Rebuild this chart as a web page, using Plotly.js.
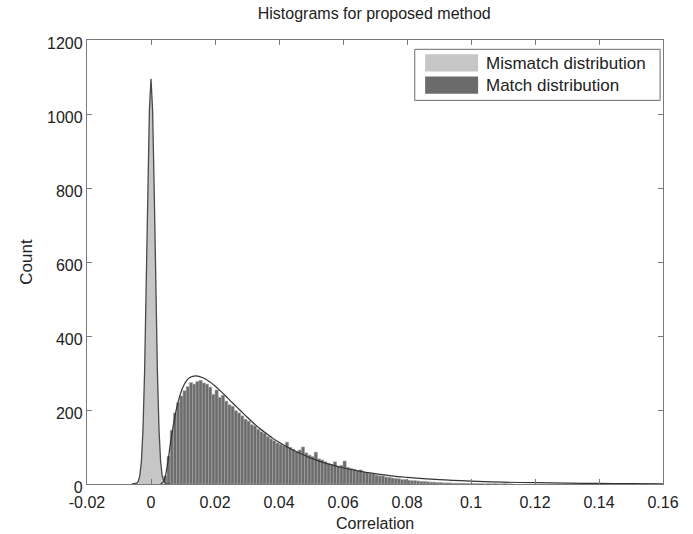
<!DOCTYPE html>
<html>
<head>
<meta charset="utf-8">
<script src="https://cdn.plot.ly/plotly-3.0.1.min.js"></script>
<style>html,body{margin:0;padding:0;background:#fff;}#chart{width:693px;height:534px;}</style>
</head>
<body>
<div id="chart"></div>
<script>
// ---- data ----
const chartTitle = 'Histograms for proposed method';
const xTitle = 'Correlation';
const yTitle = 'Count';
const legendNames = ['Mismatch distribution', 'Match distribution'];

const xTickVals = [-0.02, 0, 0.02, 0.04, 0.06, 0.08, 0.1, 0.12, 0.14, 0.16];
const xTickText = ['-0.02', '0', '0.02', '0.04', '0.06', '0.08', '0.1', '0.12', '0.14', '0.16'];
const yTickVals = [0, 200, 400, 600, 800, 1000, 1200];
const yTickText = ['0', '200', '400', '600', '800', '1000', '1200'];

// mismatch distribution (narrow peak around 0)
const mismatchX = [-0.006, -0.005, -0.0045, -0.004, -0.0035, -0.003, -0.0025, -0.002, -0.0015, -0.001, -0.0005, 0,
                   0.0005, 0.001, 0.0015, 0.002, 0.0025, 0.003, 0.0035, 0.004, 0.0045, 0.005, 0.006];
const mismatchY = [0, 0, 2, 7, 22, 61, 148, 304, 533, 795, 1011, 1095,
                   1011, 795, 533, 304, 148, 61, 22, 7, 2, 0, 0];

// match distribution histogram: bins of width 0.001 starting at 0.003
const matchBinStart = 0.003;
const matchBinWidth = 0.001;
const matchCounts = [6, 22, 75, 145, 192, 220, 238, 252, 263, 274,
  270, 277, 280, 273, 270, 262, 242, 254, 234, 240,
  224, 214, 210, 198, 192, 184, 175, 170, 160, 157,
  148, 141, 137, 128, 122, 117, 111, 107, 103, 113,
  99, 94, 88, 92, 100, 84, 78, 74, 86, 68,
  65, 60, 55, 52, 60, 48, 50, 62, 45, 42,
  40, 36, 38, 32, 30, 28, 27, 24, 22, 22,
  19, 18, 16, 15, 14, 12, 12, 10, 9, 9,
  8, 7, 7, 6, 5, 5, 4, 4, 3, 3,
  3, 2, 2, 2, 2, 1, 1, 1, 1, 1,
  1, 0, 1, 0, 1, 0, 0, 1, 0, 0];

// fitted curve for the match distribution
const fitX = [0.003, 0.004, 0.005, 0.006, 0.007, 0.008, 0.009, 0.010, 0.011, 0.012, 0.013, 0.014, 0.015, 0.016,
  0.017, 0.018, 0.019, 0.020, 0.022, 0.024, 0.026, 0.028, 0.030, 0.032, 0.034, 0.036, 0.038, 0.040,
  0.043, 0.046, 0.050, 0.055, 0.060, 0.065, 0.070, 0.075, 0.080, 0.090, 0.100, 0.110, 0.120, 0.130,
  0.140, 0.150, 0.160];
const fitY = [0, 8, 45, 105, 160, 205, 238, 262, 278, 287, 291, 292, 291, 288,
  284, 278, 272, 265, 249, 232, 215, 198, 181, 165, 150, 137, 124, 113,
  98, 85, 70, 55, 44, 35, 28, 22, 18, 12, 8, 5, 3.5, 2.5,
  1.5, 1, 0.5];

// ---- build ----
const matchCenters = matchCounts.map((_, i) => +(matchBinStart + matchBinWidth * (i + 0.5)).toFixed(5));

const mismatchFill = '#c6c6c6';
const matchFill = '#6b6b6b';
const axisColor = '#7a7a7a';
const textColor = '#222';
const font = {family: 'Liberation Sans, Arial, sans-serif', size: 17, color: textColor};
const tickFont = {family: font.family, size: 16, color: textColor};

const traces = [
  {
    type: 'scatter', mode: 'lines', name: legendNames[0],
    x: mismatchX, y: mismatchY,
    fill: 'tozeroy', fillcolor: mismatchFill,
    line: {color: '#4a4a4a', width: 1.3},
    showlegend: false
  },
  {
    type: 'bar', name: legendNames[1],
    x: matchCenters, y: matchCounts, width: matchBinWidth,
    marker: {color: matchFill, line: {color: '#a6a6a6', width: 0.6}},
    showlegend: false
  },
  {
    type: 'scatter', mode: 'lines', name: 'fit',
    x: fitX, y: fitY,
    line: {color: '#333', width: 1.2, shape: 'spline'},
    showlegend: false
  }
];

const layout = {
  width: 693, height: 534,
  margin: {l: 87, r: 30, t: 40, b: 50},
  paper_bgcolor: '#fff', plot_bgcolor: '#fff',
  font: font,
  bargap: 0,
  showlegend: false,
  title: {text: chartTitle, font: {family: font.family, size: 16, color: textColor},
          x: 0.54, xanchor: 'center', y: 0.985, yanchor: 'top', yref: 'container'},
  xaxis: {
    range: [-0.02, 0.16], tickvals: xTickVals, ticktext: xTickText,
    showline: true, mirror: 'ticks', linecolor: axisColor, linewidth: 1.2,
    ticks: 'inside', ticklen: 5, tickcolor: axisColor, tickwidth: 1,
    showgrid: false, zeroline: false, automargin: false,
    tickfont: tickFont, ticklabelstandoff: 4
  },
  yaxis: {
    range: [0, 1200], tickvals: yTickVals, ticktext: yTickText,
    showline: true, mirror: 'ticks', linecolor: axisColor, linewidth: 1.2,
    ticks: 'inside', ticklen: 5, tickcolor: axisColor, tickwidth: 1,
    showgrid: false, zeroline: false, automargin: false,
    tickfont: tickFont, ticklabelshift: 3,
    title: {text: yTitle, font: font, standoff: 10}
  },
  shapes: [
    {type: 'rect', xref: 'paper', yref: 'paper', x0: 0.569, x1: 0.995, y0: 0.864, y1: 0.979,
     line: {color: '#6a6a6a', width: 1}, fillcolor: '#fff', layer: 'above'},
    {type: 'rect', xref: 'paper', yref: 'paper', x0: 0.587, x1: 0.679, y0: 0.929, y1: 0.968,
     line: {width: 0}, fillcolor: mismatchFill, layer: 'above'},
    {type: 'rect', xref: 'paper', yref: 'paper', x0: 0.587, x1: 0.679, y0: 0.879, y1: 0.918,
     line: {width: 0}, fillcolor: matchFill, layer: 'above'}
  ],
  annotations: [
    {xref: 'paper', yref: 'paper', x: 0.689, y: 0.948, xanchor: 'left', yanchor: 'middle',
     text: legendNames[0], showarrow: false, font: font},
    {xref: 'paper', yref: 'paper', x: 0.689, y: 0.897, xanchor: 'left', yanchor: 'middle',
     text: legendNames[1], showarrow: false, font: font},
    {xref: 'paper', yref: 'paper', x: 0.5, y: -0.088, xanchor: 'center', yanchor: 'middle',
     text: xTitle, showarrow: false, font: {family: font.family, size: 16, color: textColor}}
  ]
};

Plotly.newPlot('chart', traces, layout, {displayModeBar: false, staticPlot: true});
</script>
</body>
</html>
